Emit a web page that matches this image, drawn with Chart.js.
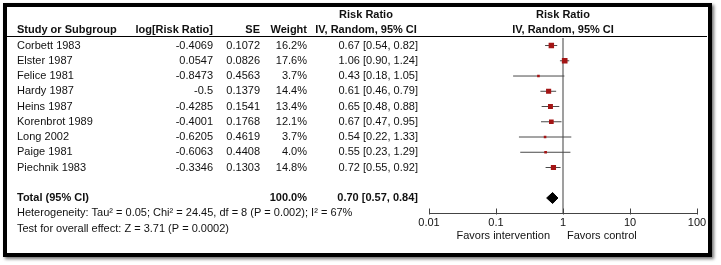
<!DOCTYPE html>
<html>
<head>
<meta charset="utf-8">
<script src="https://cdn.jsdelivr.net/npm/chart.js@4.4.1/dist/chart.umd.min.js"></script>
<style>
  body { margin: 0; background: #fff; }
  #wrap { position: relative; width: 721px; height: 265px; }
  #forest { position: absolute; left: 0; top: 0; }
  #frame {
    position: absolute; left: 3px; top: 3px; width: 709px; height: 254px;
    box-sizing: border-box; border: 4px solid #000;
    box-shadow: 2px 2px 3px rgba(0, 0, 0, 0.55);
    pointer-events: none;
  }
</style>
</head>
<body>
<div id="wrap">
  <canvas id="forest" width="721" height="265"></canvas>
  <div id="frame"></div>
</div>
<script>
// study data
const studies = ['Corbett 1983', 'Elster 1987', 'Felice 1981', 'Hardy 1987', 'Heins 1987',
                 'Korenbrot 1989', 'Long 2002', 'Paige 1981', 'Piechnik 1983'];
const logRR = ['-0.4069', '0.0547', '-0.8473', '-0.5', '-0.4285', '-0.4001', '-0.6205', '-0.6063', '-0.3346'];
const stdErr = ['0.1072', '0.0826', '0.4563', '0.1379', '0.1541', '0.1768', '0.4619', '0.4408', '0.1303'];
const weights = [16.2, 17.6, 3.7, 14.4, 13.4, 12.1, 3.7, 4.0, 14.8];
const riskRatio = [0.67, 1.06, 0.43, 0.61, 0.65, 0.67, 0.54, 0.55, 0.72];
const ciLow = [0.54, 0.90, 0.18, 0.46, 0.48, 0.47, 0.22, 0.23, 0.55];
const ciHigh = [0.82, 1.24, 1.05, 0.79, 0.88, 0.95, 1.33, 1.29, 0.92];

// pooled result
const totalWeight = 100.0;
const totalRR = 0.70;
const totalLow = 0.57;
const totalHigh = 0.84;

const xTicks = [0.01, 0.1, 1, 10, 100];
const heterogeneity = 'Heterogeneity: Tau\u00B2 = 0.05; Chi\u00B2 = 24.45, df = 8 (P = 0.002); I\u00B2 = 67%';
const overallEffect = 'Test for overall effect: Z = 3.71 (P = 0.0002)';

const TOTAL_ROW = studies.length + 2;
const FONT = '"Liberation Sans", Arial, sans-serif';
const TEXT = '#111';

function ciText(rr, lo, hi) {
    return `${rr.toFixed(2)} [${lo.toFixed(2)}, ${hi.toFixed(2)}]`;
}

// one line per confidence interval
const ciDatasets = studies.map((name, i) => ({
    label: name,
    data: [{ x: ciLow[i], y: i + 1 }, { x: ciHigh[i], y: i + 1 }],
    showLine: true,
    borderColor: '#4a4a4a',
    borderWidth: 1,
    pointRadius: 0,
    order: 2
}));

// the table on the left side is written with the y scale of the chart
const tablePlugin = {
    id: 'forestTable',
    afterDraw(chart) {
        const ctx = chart.ctx;
        const xs = chart.scales.x;
        const ys = chart.scales.y;
        const area = chart.chartArea;

        function put(text, x, row, align, bold) {
            ctx.font = (bold ? 'bold ' : '') + '11px ' + FONT;
            ctx.textAlign = align;
            ctx.textBaseline = 'middle';
            ctx.fillStyle = TEXT;
            ctx.fillText(text, x, ys.getPixelForValue(row));
        }

        ctx.save();
        // headers
        const mid = xs.getPixelForValue(1);
        put('Risk Ratio', 366, -1, 'center', true);
        put('Risk Ratio', mid, -1, 'center', true);
        put('Study or Subgroup', 17, 0, 'left', true);
        put('log[Risk Ratio]', 213, 0, 'right', true);
        put('SE', 260, 0, 'right', true);
        put('Weight', 307, 0, 'right', true);
        put('IV, Random, 95% CI', 366, 0, 'center', true);
        put('IV, Random, 95% CI', mid, 0, 'center', true);

        ctx.strokeStyle = '#000';
        ctx.lineWidth = 1;
        ctx.beginPath();
        ctx.moveTo(7, Math.floor(area.top) - 0.5);
        ctx.lineTo(707, Math.floor(area.top) - 0.5);
        ctx.stroke();

        // study rows
        studies.forEach((name, i) => {
            put(name, 17, i + 1, 'left');
            put(logRR[i], 213, i + 1, 'right');
            put(stdErr[i], 260, i + 1, 'right');
            put(weights[i].toFixed(1) + '%', 307, i + 1, 'right');
            put(ciText(riskRatio[i], ciLow[i], ciHigh[i]), 418, i + 1, 'right');
        });

        put('Total (95% CI)', 17, TOTAL_ROW, 'left', true);
        put(totalWeight.toFixed(1) + '%', 307, TOTAL_ROW, 'right', true);
        put(ciText(totalRR, totalLow, totalHigh), 418, TOTAL_ROW, 'right', true);
        put(heterogeneity, 17, TOTAL_ROW + 1, 'left');
        put(overallEffect, 17, TOTAL_ROW + 2, 'left');

        // axis line from first to last tick, tick marks stand up from it
        const axisY = Math.round(area.bottom) + 0.5;
        const x0 = Math.round(xs.getPixelForValue(xTicks[0])) + 0.5;
        const x1 = Math.round(xs.getPixelForValue(xTicks[xTicks.length - 1])) + 0.5;
        ctx.strokeStyle = '#444';
        ctx.beginPath();
        ctx.moveTo(x0, axisY);
        ctx.lineTo(x1, axisY);
        ctx.stroke();
        xs.ticks.forEach(t => {
            const px = Math.round(xs.getPixelForValue(t.value)) + 0.5;
            ctx.beginPath();
            ctx.moveTo(px, axisY - 5);
            ctx.lineTo(px, axisY + 1);
            ctx.stroke();
        });

        ctx.font = '11px ' + FONT;
        ctx.fillStyle = TEXT;
        ctx.textBaseline = 'middle';
        ctx.textAlign = 'right';
        ctx.fillText('Favors intervention', mid - 13, area.bottom + 23);
        ctx.textAlign = 'left';
        ctx.fillText('Favors control', mid + 4, area.bottom + 23);
        ctx.restore();
    }
};

const ctx = document.getElementById('forest').getContext('2d');
new Chart(ctx, {
    type: 'scatter',
    data: {
        datasets: [
            {
                label: 'Study',
                data: studies.map((s, i) => ({ x: riskRatio[i], y: i + 1 })),
                pointStyle: 'rect',
                pointRadius: weights.map(w => 1.35 * Math.sqrt(w) / Math.SQRT2),
                backgroundColor: '#a31515',
                borderColor: '#a31515',
                borderWidth: 0,
                order: 0
            },
            {
                label: 'Total',
                data: [
                    { x: totalLow, y: TOTAL_ROW },
                    { x: totalRR, y: TOTAL_ROW - 0.36 },
                    { x: totalHigh, y: TOTAL_ROW },
                    { x: totalRR, y: TOTAL_ROW + 0.36 },
                    { x: totalLow, y: TOTAL_ROW }
                ],
                showLine: true,
                fill: 'shape',
                backgroundColor: '#000',
                borderColor: '#000',
                borderWidth: 1,
                pointRadius: 0,
                order: 0
            },
            ...ciDatasets,
            {
                label: 'No effect',
                data: [{ x: 1, y: 0.5 }, { x: 1, y: 12 }],
                showLine: true,
                borderColor: '#7f7f7f',
                borderWidth: 1.5,
                pointRadius: 0,
                order: 3
            }
        ]
    },
    options: {
        responsive: false,
        animation: false,
        layout: {
            padding: { left: 429, right: 24, top: 37.9, bottom: 21.75 }
        },
        plugins: {
            legend: { display: false },
            tooltip: { enabled: false }
        },
        scales: {
            x: {
                type: 'logarithmic',
                min: 0.01,
                max: 100,
                afterBuildTicks: scale => {
                    scale.ticks = xTicks.map(v => ({ value: v }));
                },
                afterFit: scale => {
                    scale.height = 30;
                },
                ticks: {
                    autoSkip: false,
                    maxRotation: 0,
                    padding: 3,
                    color: TEXT,
                    font: { family: FONT, size: 11 },
                    callback: value => String(value)
                },
                grid: { display: false, drawTicks: false },
                border: { display: false }
            },
            y: {
                type: 'linear',
                reverse: true,
                min: 0.5,
                max: 12,
                display: false
            }
        }
    },
    plugins: [tablePlugin]
});
</script>
</body>
</html>
